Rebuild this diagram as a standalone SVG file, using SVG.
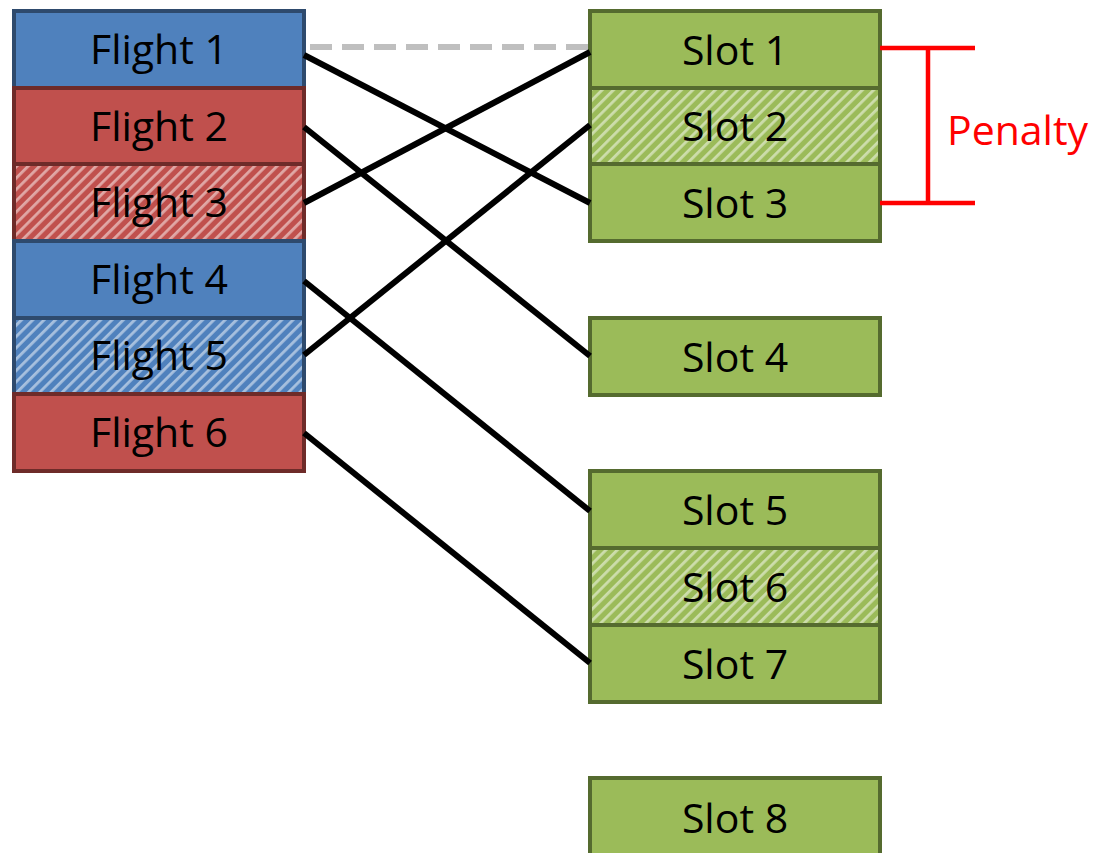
<svg xmlns="http://www.w3.org/2000/svg" width="1105" height="853" viewBox="0 0 1105 853">
  <defs>
    <!-- diagonal light stripes laid over the hatched boxes -->
    <pattern id="hatch" patternUnits="userSpaceOnUse" width="8" height="8" patternTransform="rotate(45)">
      <rect x="0" y="0" width="2.8" height="8" fill="#ffffff" fill-opacity="0.5"/>
    </pattern>
    <style>
      .blue { fill: #4F81BD; stroke: #2E4A6D; stroke-width: 4; }
      .red { fill: #C0504D; stroke: #6E2B29; stroke-width: 4; }
      .green { fill: #9BBB59; stroke: #556B2F; stroke-width: 4; }
      .hatch { fill: url(#hatch); stroke: none; }
      .label { font-family: "Open Sans", "Liberation Sans", sans-serif; font-size: 41px; fill: #000; text-anchor: middle; }
      .link { stroke: #000; stroke-width: 6; fill: none; }
      .penalty { stroke: #FF0000; stroke-width: 4.5; fill: none; }
    </style>
  </defs>
  <rect width="1105" height="853" fill="#ffffff"/>

  <!-- flights -->
  <g id="flight1"><rect class="blue" x="14" y="11" width="290" height="77"/><text class="label" x="159" y="64">Flight 1</text></g>
  <g id="flight2"><rect class="red" x="14" y="88" width="290" height="76"/><text class="label" x="159" y="141">Flight 2</text></g>
  <g id="flight3"><rect class="red" x="14" y="164" width="290" height="77"/><rect class="hatch" x="16" y="166" width="286" height="73"/><text class="label" x="159" y="217">Flight 3</text></g>
  <g id="flight4"><rect class="blue" x="14" y="241" width="290" height="77"/><text class="label" x="159" y="294">Flight 4</text></g>
  <g id="flight5"><rect class="blue" x="14" y="318" width="290" height="76"/><rect class="hatch" x="16" y="320" width="286" height="72"/><text class="label" x="159" y="370">Flight 5</text></g>
  <g id="flight6"><rect class="red" x="14" y="394" width="290" height="77"/><text class="label" x="159" y="447">Flight 6</text></g>

  <!-- slots -->
  <g id="slot1"><rect class="green" x="590" y="11" width="290" height="77"/><text class="label" x="735" y="65">Slot 1</text></g>
  <g id="slot2"><rect class="green" x="590" y="88" width="290" height="76"/><rect class="hatch" x="592" y="90" width="286" height="72"/><text class="label" x="735" y="141">Slot 2</text></g>
  <g id="slot3"><rect class="green" x="590" y="164" width="290" height="77"/><text class="label" x="735" y="218">Slot 3</text></g>
  <g id="slot4"><rect class="green" x="590" y="318" width="290" height="77"/><text class="label" x="735" y="372">Slot 4</text></g>
  <g id="slot5"><rect class="green" x="590" y="471" width="290" height="77"/><text class="label" x="735" y="525">Slot 5</text></g>
  <g id="slot6"><rect class="green" x="590" y="548" width="290" height="77"/><rect class="hatch" x="592" y="550" width="286" height="73"/><text class="label" x="735" y="602">Slot 6</text></g>
  <g id="slot7"><rect class="green" x="590" y="625" width="290" height="77"/><text class="label" x="735" y="679">Slot 7</text></g>
  <g id="slot8"><rect class="green" x="590" y="778" width="290" height="77"/><text class="label" x="735" y="833">Slot 8</text></g>

  <!-- assignments -->
  <g id="connectors">
    <line x1="310" y1="47" x2="590" y2="47" stroke="#BFBFBF" stroke-width="6" stroke-dasharray="22 10"/>
    <line class="link" x1="304" y1="55" x2="590" y2="203"/>
    <line class="link" x1="304" y1="127" x2="590" y2="356"/>
    <line class="link" x1="304" y1="203" x2="590" y2="52"/>
    <line class="link" x1="304" y1="281" x2="590" y2="511"/>
    <line class="link" x1="304" y1="355" x2="590" y2="125"/>
    <line class="link" x1="304" y1="433" x2="590" y2="663"/>
  </g>

  <!-- penalty bracket between slot 1 and slot 3 -->
  <g id="penalty">
    <path class="penalty" d="M880 48 H975 M880 203 H975 M928 48 V203"/>
    <text x="947" y="145" font-family="Open Sans, Liberation Sans, sans-serif" font-size="41" fill="#FF0000">Penalty</text>
  </g>
</svg>
